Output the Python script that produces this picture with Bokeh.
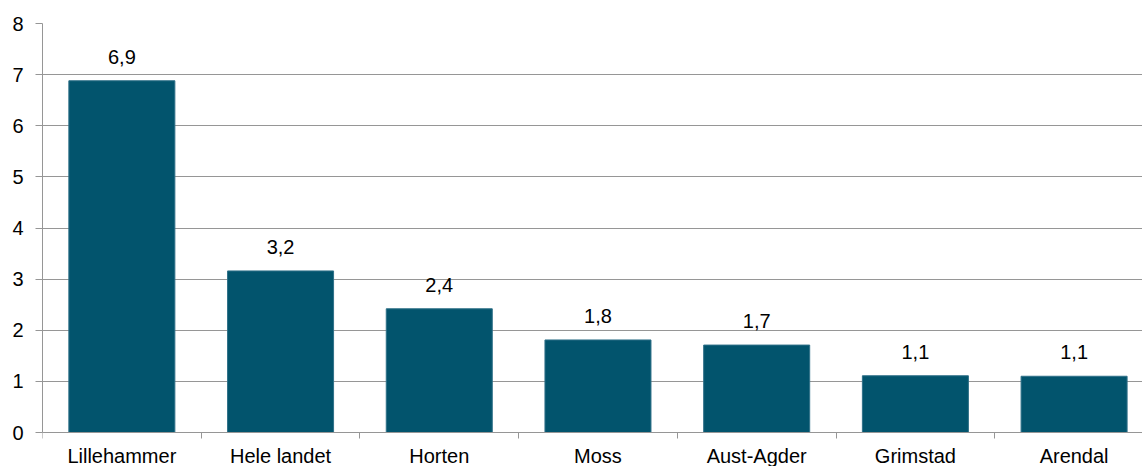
from bokeh.plotting import figure
from bokeh.models import ColumnDataSource, FixedTicker, Range1d
from bokeh.core.properties import value
from bokeh.embed import file_html
from bokeh.resources import INLINE

categories = ["Lillehammer", "Hele landet", "Horten", "Moss", "Aust-Agder", "Grimstad", "Arendal"]
values = [6.88, 3.16, 2.42, 1.81, 1.71, 1.11, 1.10]
y_ticks = [0, 1, 2, 3, 4, 5, 6, 7, 8]

xs = list(range(len(categories)))
labels = [f"{v:.1f}".replace(".", ",") for v in values]
src = ColumnDataSource(dict(x=xs, top=values, labels=labels))

FONT = "Liberation Sans"
GRAY = "#969696"
BAR = "#02546D"

p = figure(width=1142, height=466,
           x_range=Range1d(-0.5, 6.431), y_range=Range1d(-0.665, 8),
           output_backend="svg", toolbar_location=None,
           min_border_left=42, min_border_right=0, min_border_top=23, min_border_bottom=0)
p.outline_line_color = None
p.background_fill_color = "white"

p.vbar(x="x", top="top", bottom=0, width=0.668, source=src,
       fill_color=BAR, line_color="#2f7088", line_width=1)
p.text(x="x", y="top", text="labels", source=src, y_offset=-24,
       text_align="center", text_baseline="alphabetic",
       text_font=value(FONT), text_font_size="20px", text_color="black")

# y axis
p.yaxis.ticker = FixedTicker(ticks=y_ticks)
p.yaxis.bounds = (0, 8)
p.yaxis.axis_line_color = GRAY
p.yaxis.major_tick_line_color = GRAY
p.yaxis.major_tick_out = 7
p.yaxis.major_tick_in = 0
p.yaxis.minor_tick_line_color = None
p.yaxis.major_label_text_font = FONT
p.yaxis.major_label_text_font_size = "20px"
p.yaxis.major_label_text_color = "black"
p.yaxis.major_label_standoff = 12

# x axis
p.xaxis.fixed_location = 0
p.xaxis.ticker = FixedTicker(ticks=xs, minor_ticks=[i - 0.5 for i in range(len(categories) + 1)])
p.xaxis.major_label_overrides = {i: c for i, c in enumerate(categories)}
p.xaxis.axis_line_color = GRAY
p.xaxis.major_tick_line_color = None
p.xaxis.major_tick_out = 0
p.xaxis.major_tick_in = 0
p.xaxis.minor_tick_line_color = GRAY
p.xaxis.minor_tick_out = 6
p.xaxis.minor_tick_in = 0
p.xaxis.major_label_text_font = FONT
p.xaxis.major_label_text_font_size = "20px"
p.xaxis.major_label_text_color = "black"
p.xaxis.major_label_standoff = 6

p.xgrid.visible = False
p.ygrid.grid_line_color = GRAY
p.ygrid.grid_line_width = 1

open("out.html", "w").write(file_html(p, INLINE))
